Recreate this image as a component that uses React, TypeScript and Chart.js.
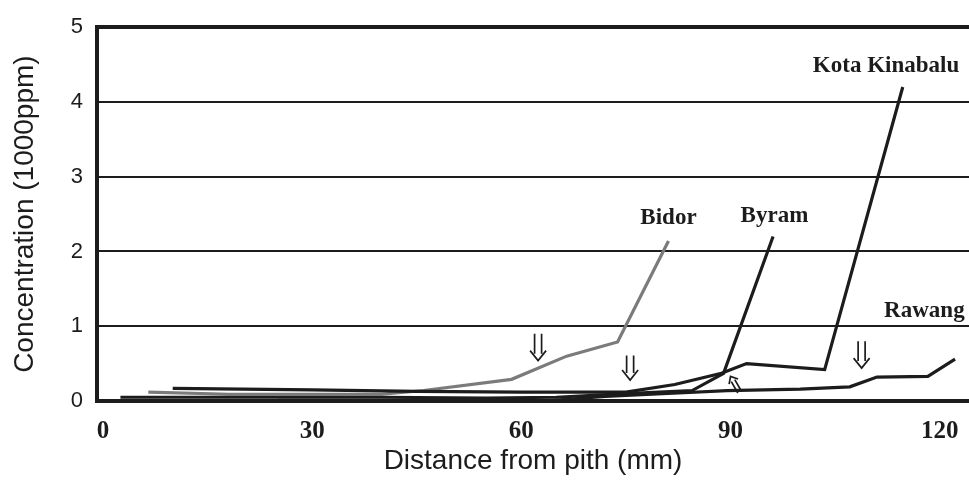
import React, { useEffect, useRef } from "react";
import { Chart, registerables } from "chart.js";

Chart.register(...registerables);

// Axis ticks
const xTickValues = [0, 30, 60, 90, 120];
const yTickValues = [0, 1, 2, 3, 4, 5];

// Series (distance from pith in mm, concentration in 1000 ppm)
const bidorX = [6.5, 18, 40, 46, 58.6, 66.5, 73.8, 81.1];
const bidorY = [0.12, 0.09, 0.09, 0.14, 0.29, 0.6, 0.79, 2.14];

const byramX = [2.5, 20, 40, 55, 65, 75, 84.5, 89, 96.1];
const byramY = [0.05, 0.05, 0.05, 0.04, 0.05, 0.1, 0.14, 0.37, 2.2];

const kotaX = [10, 30, 45, 60, 75, 82, 88.7, 92.3, 103.5, 114.7];
const kotaY = [0.17, 0.15, 0.13, 0.12, 0.12, 0.22, 0.37, 0.5, 0.42, 4.2];

const rawangX = [25, 40, 55, 63, 72, 81, 89.5, 100, 107.1, 111, 118.3, 122.2];
const rawangY = [0.01, 0.01, 0.01, 0.0, 0.06, 0.1, 0.14, 0.16, 0.19, 0.32, 0.33, 0.56];

// Series labels (text, x, y in data units)
const labelTexts = ["Kota Kinabalu", "Bidor", "Byram", "Rawang"];
const labelX = [112.3, 81.1, 96.3, 117.8];
const labelY = [4.48, 2.45, 2.47, 1.2];

// Open double arrows (x, top value, tip value)
const arrowX = [62.4, 75.6, 108.8];
const arrowTop = [0.9, 0.61, 0.8];
const arrowTip = [0.54, 0.28, 0.44];

// Small open arrow (tail -> tip)
const smallArrowTail = [91.3, 0.12];
const smallArrowTip = [90.0, 0.33];

const zip = (xs: number[], ys: number[]) => xs.map((x, i) => ({ x, y: ys[i] }));

const INK = "#1c1c1c";

const annotationPlugin = {
  id: "annotations",
  afterDatasetsDraw(chart: any) {
    const { ctx, scales } = chart;
    const xs = scales.x;
    const ys = scales.y;
    ctx.save();
    ctx.fillStyle = INK;
    ctx.font = "bold 23px 'Liberation Serif'";
    ctx.textAlign = "center";
    ctx.textBaseline = "middle";
    labelTexts.forEach((t, i) => {
      ctx.fillText(t, xs.getPixelForValue(labelX[i]), ys.getPixelForValue(labelY[i]));
    });

    ctx.strokeStyle = INK;
    ctx.lineWidth = 1.7;
    ctx.lineCap = "butt";
    ctx.lineJoin = "miter";
    arrowX.forEach((ax, i) => {
      const px = xs.getPixelForValue(ax);
      const top = ys.getPixelForValue(arrowTop[i]);
      const tip = ys.getPixelForValue(arrowTip[i]);
      const headH = 10;
      const headW = 8;
      ctx.beginPath();
      ctx.moveTo(px - 3.5, top);
      ctx.lineTo(px - 3.5, tip - headH + 3);
      ctx.moveTo(px + 3.5, top);
      ctx.lineTo(px + 3.5, tip - headH + 3);
      ctx.moveTo(px - headW, tip - headH);
      ctx.lineTo(px, tip);
      ctx.lineTo(px + headW, tip - headH);
      ctx.stroke();
    });

    // small open arrow (two shafts + head)
    const tx = xs.getPixelForValue(smallArrowTip[0]);
    const ty = ys.getPixelForValue(smallArrowTip[1]);
    const bx = xs.getPixelForValue(smallArrowTail[0]);
    const by = ys.getPixelForValue(smallArrowTail[1]);
    const ang = Math.atan2(ty - by, tx - bx);
    const nx = -Math.sin(ang);
    const ny = Math.cos(ang);
    const hl = 8;
    const sx = 2;
    const hx = tx - 5 * Math.cos(ang);
    const hy = ty - 5 * Math.sin(ang);
    ctx.beginPath();
    ctx.moveTo(bx + nx * sx, by + ny * sx);
    ctx.lineTo(hx + nx * sx, hy + ny * sx);
    ctx.moveTo(bx - nx * sx, by - ny * sx);
    ctx.lineTo(hx - nx * sx, hy - ny * sx);
    ctx.moveTo(tx + hl * Math.cos(ang + Math.PI - 0.7), ty + hl * Math.sin(ang + Math.PI - 0.7));
    ctx.lineTo(tx, ty);
    ctx.lineTo(tx + hl * Math.cos(ang + Math.PI + 0.7), ty + hl * Math.sin(ang + Math.PI + 0.7));
    ctx.stroke();
    ctx.restore();
  },
};

const whiteBg = {
  id: "whiteBg",
  beforeDraw(chart: any) {
    const { ctx, width, height } = chart;
    ctx.save();
    ctx.fillStyle = "#ffffff";
    ctx.fillRect(0, 0, width, height);
    ctx.restore();
  },
};

export default function App() {
  const canvasRef = useRef<HTMLCanvasElement | null>(null);

  useEffect(() => {
    document.body.style.margin = "0";
    const canvas = canvasRef.current;
    if (!canvas) return;
    const lineDs = (label: string, data: any[], color: string) => ({
      label,
      data,
      borderColor: color,
      backgroundColor: color,
      borderWidth: 3.2,
      pointRadius: 0,
      tension: 0,
      fill: false,
    });
    const chart = new Chart(canvas, {
      type: "line",
      data: {
        datasets: [
          lineDs("Rawang", zip(rawangX, rawangY), INK),
          lineDs("Byram", zip(byramX, byramY), INK),
          lineDs("Kota Kinabalu", zip(kotaX, kotaY), INK),
          lineDs("Bidor", zip(bidorX, bidorY), "#7b7b7b"),
        ],
      },
      options: {
        responsive: false,
        animation: false,
        devicePixelRatio: 1,
        layout: { padding: { top: 23, left: 0, right: 0, bottom: 0 } },
        plugins: { legend: { display: false }, tooltip: { enabled: false } },
        scales: {
          x: {
            type: "linear",
            min: -0.86,
            max: 124.2,
            afterBuildTicks: (scale: any) => {
              scale.ticks = xTickValues.map((v) => ({ value: v }));
            },
            afterFit: (scale: any) => {
              scale.height = 86;
              scale.paddingLeft = 0;
              scale.paddingRight = 0;
            },
            grid: { display: false, drawTicks: false },
            border: { display: true, width: 4, color: INK },
            ticks: {
              padding: 16,
              color: INK,
              maxRotation: 0,
              font: { family: "'Liberation Serif'", size: 25, weight: "bold" },
              callback: (v: any) => String(v),
            },
            title: {
              display: true,
              text: "Distance from pith (mm)",
              color: INK,
              font: { family: "'Liberation Sans'", size: 28 },
              padding: { top: 0, bottom: 9 },
            },
          },
          y: {
            type: "linear",
            min: 0,
            max: 5,
            afterBuildTicks: (scale: any) => {
              scale.ticks = yTickValues.map((v) => ({ value: v }));
            },
            afterFit: (scale: any) => {
              scale.width = 97;
            },
            grid: {
              color: INK,
              drawTicks: false,
              lineWidth: (c: any) =>
                c.tick && (c.tick.value === 0 || c.tick.value === 5) ? 4 : 2,
            },
            border: { display: true, width: 4, color: INK },
            ticks: {
              padding: 14,
              color: INK,
              font: { family: "'Liberation Sans'", size: 22 },
              callback: (v: any) => String(v),
            },
            title: {
              display: true,
              text: "Concentration (1000ppm)",
              color: INK,
              font: { family: "'Liberation Sans'", size: 28 },
              padding: { top: 8, bottom: 0 },
            },
          },
        },
      },
      plugins: [whiteBg, annotationPlugin],
    });
    return () => chart.destroy();
  }, []);

  return (
    <div style={{ width: 969, height: 487 }}>
      <canvas ref={canvasRef} width={969} height={487} style={{ display: "block" }} />
    </div>
  );
}
